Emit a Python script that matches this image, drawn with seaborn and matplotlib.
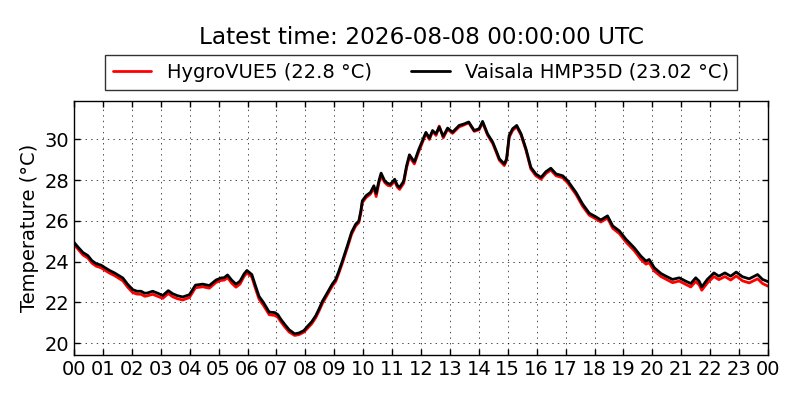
import numpy as np
import pandas as pd
import matplotlib
matplotlib.use("Agg")
import matplotlib.pyplot as plt
import seaborn as sns

hours = [
    0.00, 0.15, 0.31, 0.48, 0.62, 0.77, 0.94,
    1.08, 1.23, 1.40, 1.57, 1.69, 1.85,
    2.03, 2.18, 2.32, 2.45, 2.55, 2.72, 2.90,
    3.07, 3.26, 3.41, 3.58, 3.76, 3.99,
    4.20, 4.45, 4.68, 4.91,
    5.08, 5.20, 5.31, 5.45, 5.60, 5.74, 5.88, 5.98,
    6.15, 6.28, 6.40, 6.55, 6.75, 6.95,
    7.05, 7.15, 7.30, 7.44, 7.63, 7.78, 7.95,
    8.07, 8.22, 8.36, 8.48, 8.59, 8.75, 8.93,
    9.05, 9.15, 9.28, 9.45, 9.60, 9.74, 9.85, 9.92, 9.97,
    10.10, 10.25, 10.37, 10.45, 10.55, 10.62, 10.75, 10.85, 10.94,
    11.09, 11.18, 11.26, 11.40, 11.50, 11.60, 11.77, 11.92,
    12.03, 12.17, 12.29, 12.40, 12.52, 12.63, 12.77, 12.92,
    13.09, 13.32, 13.50, 13.65, 13.84,
    14.01, 14.13, 14.30, 14.48, 14.60, 14.71, 14.88, 14.96,
    15.05, 15.17, 15.31, 15.46, 15.63, 15.80, 15.97,
    16.15, 16.32, 16.49, 16.67, 16.90,
    17.07, 17.36, 17.59, 17.82,
    18.05, 18.22, 18.45, 18.63, 18.86,
    19.09, 19.37, 19.60, 19.78, 19.89,
    20.07, 20.30, 20.47, 20.70, 20.93,
    21.16, 21.33, 21.50, 21.62, 21.71, 21.90,
    22.13, 22.30, 22.51, 22.71, 22.90,
    23.12, 23.35, 23.64, 23.81, 24.00,
]

vaisala = [
    24.95, 24.7, 24.45, 24.3, 24.05, 23.9, 23.83,
    23.7, 23.57, 23.45, 23.3, 23.2, 22.9,
    22.63, 22.55, 22.55, 22.45, 22.47, 22.55, 22.45,
    22.34, 22.58, 22.43, 22.33, 22.27, 22.38,
    22.85, 22.9, 22.83, 23.1,
    23.2, 23.22, 23.35, 23.1, 22.9, 23.04, 23.4, 23.57,
    23.37, 22.8, 22.3, 22.0, 21.53, 21.5,
    21.4, 21.18, 20.9, 20.66, 20.46, 20.5, 20.62,
    20.82, 21.05, 21.35, 21.7, 22.06, 22.45, 22.9,
    23.13, 23.5, 24.03, 24.77, 25.45, 25.84, 26.0, 26.5, 26.99,
    27.24, 27.4, 27.73, 27.35, 28.0, 28.35, 27.95, 27.85, 27.8,
    28.05, 27.75, 27.65, 27.95, 28.7, 29.25, 28.9, 29.5,
    29.87, 30.35, 30.07, 30.44, 30.28, 30.61, 30.16, 30.56,
    30.36, 30.69, 30.77, 30.86, 30.44,
    30.53, 30.89, 30.28, 29.87, 29.45, 29.05, 28.8, 29.05,
    30.2, 30.53, 30.69, 30.28, 29.54, 28.63, 28.31,
    28.14, 28.42, 28.59, 28.31, 28.22,
    27.98, 27.4, 26.83, 26.38,
    26.2, 26.05, 26.25, 25.76, 25.51,
    25.1, 24.69, 24.28, 24.03, 24.11,
    23.7, 23.42, 23.29, 23.13, 23.21,
    23.04, 22.93, 23.21, 23.04, 22.76, 23.13,
    23.45, 23.29, 23.45, 23.29, 23.49,
    23.26, 23.16, 23.37, 23.13, 23.02,
]

hygrovue = [
    24.85, 24.6, 24.33, 24.18, 23.93, 23.78, 23.7,
    23.57, 23.44, 23.32, 23.17, 23.06, 22.76,
    22.48, 22.41, 22.4, 22.3, 22.33, 22.4, 22.3,
    22.2, 22.44, 22.28, 22.18, 22.12, 22.24,
    22.72, 22.77, 22.7, 22.98,
    23.08, 23.1, 23.22, 22.95, 22.75, 22.9, 23.28, 23.45,
    23.25, 22.66, 22.16, 21.86, 21.4, 21.36,
    21.27, 21.06, 20.78, 20.55, 20.38, 20.42, 20.54,
    20.72, 20.95, 21.25, 21.6, 21.95, 22.35, 22.8,
    23.03, 23.4, 23.93, 24.67, 25.35, 25.75, 25.92, 26.4, 26.9,
    27.15, 27.32, 27.62, 27.2, 27.9, 28.22, 27.88, 27.75, 27.72,
    27.95, 27.66, 27.55, 27.85, 28.6, 29.15, 28.8, 29.4,
    29.78, 30.3, 30.0, 30.4, 30.2, 30.66, 30.08, 30.5,
    30.3, 30.62, 30.72, 30.82, 30.4,
    30.48, 30.82, 30.22, 29.8, 29.38, 28.98, 28.72, 28.98,
    30.1, 30.45, 30.62, 30.22, 29.47, 28.55, 28.22,
    28.05, 28.33, 28.5, 28.22, 28.12,
    27.88, 27.3, 26.72, 26.28,
    26.1, 25.95, 26.14, 25.64, 25.38,
    24.96, 24.55, 24.12, 23.88, 23.95,
    23.54, 23.27, 23.14, 22.97, 23.05,
    22.88, 22.76, 23.03, 22.86, 22.6, 22.95,
    23.27, 23.12, 23.27, 23.1, 23.3,
    23.06, 22.96, 23.16, 22.93, 22.8,
]

series_names = ["HygroVUE5 (22.8 °C)", "Vaisala HMP35D (23.02 °C)"]
series_colors = ["red", "black"]
xtick_labels = ["%02d" % (h % 24) for h in range(25)]
title_text = "Latest time: 2026-08-08 00:00:00 UTC"

df = pd.concat([
    pd.DataFrame({"hour": hours, "temp": hygrovue, "sensor": series_names[0]}),
    pd.DataFrame({"hour": hours, "temp": vaisala, "sensor": series_names[1]}),
], ignore_index=True)

sns.set_style("white")
plt.rcParams.update({
    "font.family": ["DejaVu Sans"],
    "text.color": "black",
    "axes.labelcolor": "black",
    "xtick.color": "black",
    "ytick.color": "black",
    "xtick.direction": "in",
    "ytick.direction": "in",
    "xtick.top": True,
    "ytick.right": True,
    "xtick.bottom": True,
    "ytick.left": True,
    "xtick.major.size": 4,
    "ytick.major.size": 4,
    "axes.edgecolor": "black",
    "axes.linewidth": 1.0,
    "lines.scale_dashes": False,
})

fig = plt.figure(figsize=(8, 4), dpi=100)
ax = fig.add_axes([0.0925, 0.1125, 0.8675, 0.635])

sns.lineplot(data=df, x="hour", y="temp", hue="sensor",
             palette=dict(zip(series_names, series_colors)),
             linewidth=2, ax=ax, estimator=None, sort=False)

ax.set_xlim(0, 24)
ax.set_ylim(19.42, 31.89)
ax.set_xticks(range(25))
ax.set_xticklabels(xtick_labels)
ax.set_yticks([20, 22, 24, 26, 28, 30])
ax.tick_params(labelsize=14, colors="black", width=1)
ax.grid(True, color="black", linestyle=(0, (1, 3)), linewidth=0.5)
ax.set_xlabel("")
ax.set_ylabel("Temperature (°C)", fontsize=14, color="black")
for s in ax.spines.values():
    s.set_visible(True)
    s.set_color("black")

leg = ax.legend(loc="lower center", bbox_to_anchor=(0.5, 1.045), ncol=2,
                fontsize=14, frameon=True, fancybox=False, edgecolor="black",
                borderaxespad=0, handlelength=2, columnspacing=2.0)
leg.get_frame().set_linewidth(1.0)
for line in leg.get_lines():
    line.set_linewidth(2)
for t in leg.get_texts():
    t.set_color("black")

ax.set_title(title_text, fontsize=16.7, pad=41, color="black")

fig.savefig("out.png", dpi=100)
